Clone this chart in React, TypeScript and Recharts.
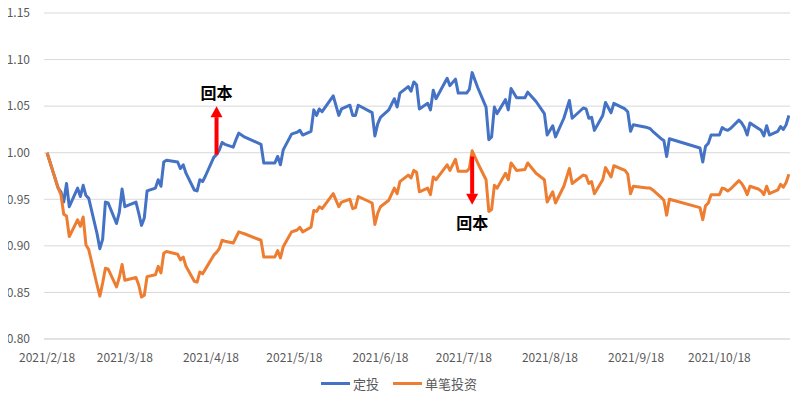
import React from "react";
import {
  LineChart,
  Line,
  XAxis,
  YAxis,
  CartesianGrid,
  Legend,
  ReferenceLine,
} from "recharts";

const dates = [
  "2021/2/18", "2021/2/22", "2021/2/23", "2021/2/24", "2021/2/25", "2021/2/26",
  "2021/3/1", "2021/3/2", "2021/3/3", "2021/3/4", "2021/3/5", "2021/3/8",
  "2021/3/9", "2021/3/10", "2021/3/11", "2021/3/12", "2021/3/15", "2021/3/16",
  "2021/3/17", "2021/3/18", "2021/3/22", "2021/3/23", "2021/3/24", "2021/3/25",
  "2021/3/26", "2021/3/29", "2021/3/30", "2021/3/31", "2021/4/1", "2021/4/2",
  "2021/4/6", "2021/4/7", "2021/4/8", "2021/4/9", "2021/4/12", "2021/4/13",
  "2021/4/14", "2021/4/15", "2021/4/16", "2021/4/19", "2021/4/20", "2021/4/21",
  "2021/4/22", "2021/4/23", "2021/4/26", "2021/4/27", "2021/4/28", "2021/4/29",
  "2021/4/30", "2021/5/6", "2021/5/7", "2021/5/10", "2021/5/11", "2021/5/12",
  "2021/5/13", "2021/5/14", "2021/5/17", "2021/5/18", "2021/5/19", "2021/5/20",
  "2021/5/21", "2021/5/24", "2021/5/25", "2021/5/26", "2021/5/27", "2021/5/28",
  "2021/6/1", "2021/6/3", "2021/6/4", "2021/6/7", "2021/6/8", "2021/6/9",
  "2021/6/10", "2021/6/15", "2021/6/16", "2021/6/17", "2021/6/18", "2021/6/21",
  "2021/6/23", "2021/6/24", "2021/6/25", "2021/6/28", "2021/6/29", "2021/6/30",
  "2021/7/1", "2021/7/2", "2021/7/5", "2021/7/6", "2021/7/7", "2021/7/8",
  "2021/7/12", "2021/7/13", "2021/7/15", "2021/7/16", "2021/7/19", "2021/7/20",
  "2021/7/21", "2021/7/23", "2021/7/26", "2021/7/27", "2021/7/28", "2021/7/29",
  "2021/7/30", "2021/8/2", "2021/8/3", "2021/8/4", "2021/8/6", "2021/8/9",
  "2021/8/10", "2021/8/13", "2021/8/16", "2021/8/17", "2021/8/19", "2021/8/20",
  "2021/8/23", "2021/8/25", "2021/8/26", "2021/8/30", "2021/8/31", "2021/9/1",
  "2021/9/2", "2021/9/3", "2021/9/6", "2021/9/7", "2021/9/9", "2021/9/10",
  "2021/9/14", "2021/9/15", "2021/9/16", "2021/9/17", "2021/9/22", "2021/9/23",
  "2021/9/24", "2021/9/27", "2021/9/28", "2021/9/29", "2021/9/30", "2021/10/11",
  "2021/10/12", "2021/10/13", "2021/10/14", "2021/10/15", "2021/10/18", "2021/10/19",
  "2021/10/20", "2021/10/21", "2021/10/22", "2021/10/25", "2021/10/26", "2021/10/27",
  "2021/10/28", "2021/10/29", "2021/11/1", "2021/11/2", "2021/11/3", "2021/11/4",
  "2021/11/5", "2021/11/8", "2021/11/9", "2021/11/10", "2021/11/11", "2021/11/12",
];

const dingtou = [
  1.0, 0.962, 0.958, 0.947, 0.967, 0.942,
  0.962, 0.953, 0.965, 0.954, 0.951, 0.913,
  0.897, 0.907, 0.947, 0.946, 0.924, 0.936,
  0.961, 0.942, 0.947, 0.935, 0.922, 0.93,
  0.959, 0.962, 0.971, 0.964, 0.99, 0.992,
  0.99, 0.983, 0.987, 0.978, 0.96, 0.959,
  0.971, 0.969, 0.975, 0.995, 0.998, 1.003,
  1.011, 1.009, 1.006, 1.014, 1.021, 1.019,
  1.017, 1.009, 0.989, 0.989, 0.989, 0.996,
  0.987, 1.003, 1.02, 1.021, 1.022, 1.024,
  1.019, 1.023, 1.046, 1.04, 1.047, 1.044,
  1.061, 1.04, 1.047, 1.051, 1.04, 1.04,
  1.051, 1.043, 1.018, 1.031, 1.038, 1.046,
  1.058, 1.049, 1.064, 1.071, 1.066, 1.076,
  1.073, 1.047, 1.053, 1.046, 1.067, 1.058,
  1.08, 1.072, 1.079, 1.064, 1.064, 1.068,
  1.086, 1.07, 1.049, 1.014, 1.017, 1.049,
  1.042, 1.057, 1.046, 1.069, 1.059, 1.059,
  1.065, 1.055, 1.042, 1.019, 1.029, 1.017,
  1.037, 1.056, 1.037, 1.048, 1.047, 1.037,
  1.038, 1.024, 1.04, 1.054, 1.043, 1.053,
  1.047, 1.044, 1.023, 1.03, 1.027, 1.026,
  1.023, 1.015, 1.013, 0.996, 1.015, 1.005,
  0.99, 1.007, 1.01, 1.019, 1.019, 1.027,
  1.025, 1.024, 1.026, 1.035, 1.032, 1.027,
  1.019, 1.032, 1.026, 1.024, 1.018, 1.029,
  1.019, 1.023, 1.028, 1.025, 1.03, 1.04,
];

const danbi = [
  1.0, 0.962, 0.955, 0.934, 0.932, 0.91,
  0.928, 0.921, 0.931, 0.901, 0.896, 0.858,
  0.846, 0.86, 0.876, 0.875, 0.856, 0.866,
  0.88, 0.863, 0.866, 0.858, 0.845, 0.847,
  0.867, 0.869, 0.878, 0.871, 0.892, 0.894,
  0.891, 0.885, 0.888, 0.878, 0.862, 0.861,
  0.872, 0.87, 0.875, 0.89, 0.893, 0.897,
  0.906, 0.905, 0.903, 0.909, 0.915, 0.914,
  0.913, 0.906, 0.888, 0.888, 0.888, 0.895,
  0.887, 0.899, 0.915, 0.916, 0.917, 0.92,
  0.915, 0.92, 0.938, 0.937, 0.942, 0.94,
  0.956, 0.942, 0.947, 0.95, 0.94, 0.941,
  0.953, 0.946, 0.923, 0.935, 0.942, 0.949,
  0.962, 0.956, 0.969, 0.976, 0.973, 0.981,
  0.979, 0.958, 0.962, 0.955, 0.974, 0.971,
  0.987, 0.981, 0.993, 0.98, 0.98, 0.983,
  1.002, 0.989, 0.971, 0.937, 0.939, 0.965,
  0.962, 0.978, 0.971, 0.989, 0.981, 0.982,
  0.989, 0.978, 0.971, 0.947, 0.958, 0.946,
  0.964, 0.983, 0.967, 0.976, 0.975, 0.967,
  0.969, 0.956, 0.971, 0.984, 0.974, 0.986,
  0.981, 0.977, 0.956, 0.964, 0.962, 0.962,
  0.96, 0.952, 0.949, 0.933, 0.95, 0.941,
  0.928, 0.943, 0.946, 0.955, 0.955, 0.962,
  0.961, 0.959, 0.961, 0.97, 0.967, 0.962,
  0.955, 0.964, 0.961, 0.959, 0.955, 0.964,
  0.956, 0.96, 0.966, 0.963, 0.968, 0.977,
];

const tickLabels = [
  "2021/2/18", "2021/3/18", "2021/4/18", "2021/5/18", "2021/6/18",
  "2021/7/18", "2021/8/18", "2021/9/18", "2021/10/18",
];

const yTicks = [0.8, 0.85, 0.9, 0.95, 1.0, 1.05, 1.1, 1.15];

const annotations = [
  { date: "2021/4/20", from: 0.998, to: 1.05, label: "回本" },
  { date: "2021/7/21", from: 0.996, to: 0.944, label: "回本" },
];

const seriesNames = { dingtou: "定投", danbi: "单笔投资" };
const BLUE = "#4472C4";
const ORANGE = "#ED7D31";
const FONT = '"Noto Sans CJK SC", "Noto Sans", sans-serif';

const dayOf = (s: string) => {
  const [y, m, d] = s.split("/").map(Number);
  return Math.round((Date.UTC(y, m - 1, d) - Date.UTC(2021, 1, 18)) / 86400000);
};

const data = dates.map((d, i) => ({
  day: dayOf(d),
  dingtou: dingtou[i],
  danbi: danbi[i],
}));

const tickDays = tickLabels.map(dayOf);
const tickMap: Record<number, string> = {};
tickLabels.forEach((t) => (tickMap[dayOf(t)] = t));

const makeArrow = (label: string, up: boolean) => (props: any) => {
  const { x1, y1, x2, y2 } = props;
  const head = 11;
  const dir = up ? -1 : 1;
  const shaftEnd = y2 - dir * head;
  return (
    <g>
      <line x1={x1} y1={y1} x2={x2} y2={shaftEnd} stroke="#FF0000" strokeWidth={4} />
      <polygon
        points={`${x2 - 6},${shaftEnd} ${x2 + 6},${shaftEnd} ${x2},${y2}`}
        fill="#FF0000"
      />
      <text
        x={x2}
        y={up ? y2 - 14 : y2 + 17}
        textAnchor="middle"
        dominantBaseline="central"
        fontSize={16}
        fontWeight="bold"
        fill="#000"
        style={{ fontFamily: FONT }}
      >
        {label}
      </text>
    </g>
  );
};

const renderLegend = () => (
  <div
    style={{
      display: "flex",
      justifyContent: "center",
      alignItems: "center",
      height: 16,
      fontSize: 13,
      color: "#595959",
      fontFamily: FONT,
    }}
  >
    {[
      { key: "dingtou", color: BLUE },
      { key: "danbi", color: ORANGE },
    ].map((it, i) => (
      <div key={it.key} style={{ display: "flex", alignItems: "center", marginLeft: i ? 14 : 0 }}>
        <div style={{ width: 29, height: 3, background: it.color, marginRight: 3 }} />
        <span>{(seriesNames as any)[it.key]}</span>
      </div>
    ))}
  </div>
);

export default function App() {
  return (
    <div style={{ marginTop: -6, width: 784, height: 392 }}>
      <LineChart
        width={784}
        height={392}
        data={data}
        margin={{ top: 11, right: 2, left: 0, bottom: 3 }}
        style={{ fontFamily: FONT }}
      >
        <CartesianGrid horizontal vertical={false} stroke="#D9D9D9" />
        <XAxis
          type="number"
          dataKey="day"
          domain={[-1.1, 267.4]}
          ticks={tickDays}
          interval={0}
          allowDataOverflow
          tickFormatter={(v: number) => tickMap[v] ?? ""}
          axisLine={{ stroke: "#D9D9D9" }}
          tickLine={false}
          tickSize={6}
          tickMargin={8}
          height={36}
          tick={{ fill: "#595959", fontSize: 12 }}
        />
        <YAxis
          domain={[0.8, 1.15]}
          ticks={yTicks}
          interval={0}
          allowDataOverflow
          tickFormatter={(v: number) => v.toFixed(2)}
          axisLine={false}
          tickLine={false}
          tickSize={6}
          tickMargin={8}
          width={36}
          tick={{ fill: "#595959", fontSize: 12 }}
        />
        <Legend verticalAlign="bottom" height={16} content={renderLegend} />
        <Line
          type="linear"
          dataKey="dingtou"
          name={seriesNames.dingtou}
          stroke={BLUE}
          strokeWidth={3}
          dot={false}
          strokeLinejoin="round"
          isAnimationActive={false}
        />
        <Line
          type="linear"
          dataKey="danbi"
          name={seriesNames.danbi}
          stroke={ORANGE}
          strokeWidth={3}
          dot={false}
          strokeLinejoin="round"
          isAnimationActive={false}
        />
        {annotations.map((a, i) => (
          <ReferenceLine
            key={i}
            segment={[
              { x: dayOf(a.date), y: a.from },
              { x: dayOf(a.date), y: a.to },
            ]}
            shape={makeArrow(a.label, a.to > a.from)}
          />
        ))}
      </LineChart>
    </div>
  );
}
